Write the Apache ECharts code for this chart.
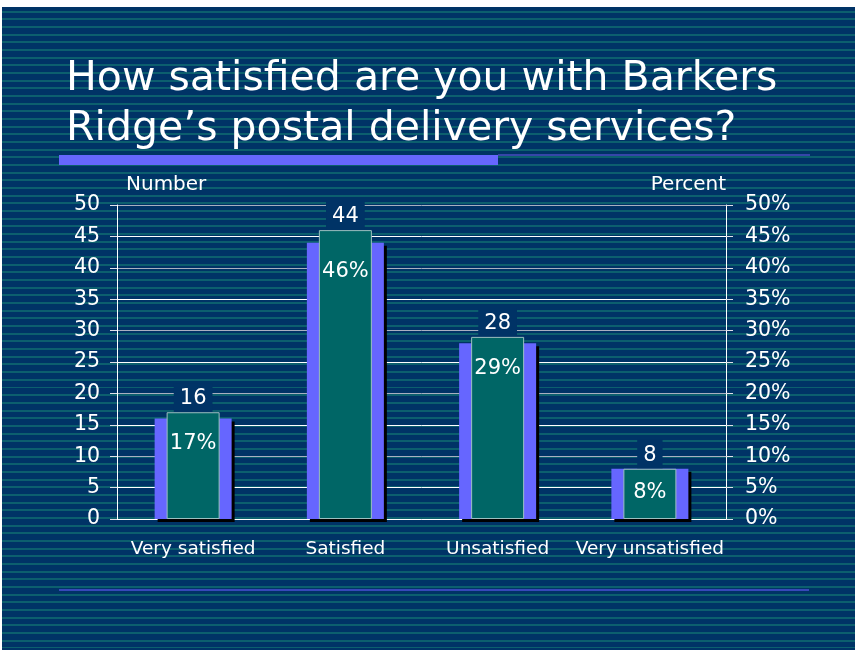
<!DOCTYPE html>
<html>
<head>
<meta charset="utf-8">
<script src="https://cdn.jsdelivr.net/npm/echarts@6/dist/echarts.min.js"></script>
<style>
  html, body { margin: 0; padding: 0; background: #ffffff; }
  #slide {
    position: absolute; left: 2px; top: 7px; width: 853px; height: 643px;
    background-color: #003366;
    background-image: repeating-linear-gradient(to bottom,
      #003366 0px, #003366 5.67px, #0c5f6e 5.67px, #0c5f6e 7.67px);
    background-position: 0 -2px;
  }
  #chart { position: absolute; left: 0; top: 0; width: 853px; height: 643px; }
</style>
</head>
<body>
<div id="slide"><div id="chart"></div></div>
<script>
// Survey answers
const categories = ['Very satisfied', 'Satisfied', 'Unsatisfied', 'Very unsatisfied'];
const numbers = [16, 44, 28, 8];
const percents = [17, 46, 29, 8];
const leftTicks = { min: 0, max: 50, interval: 5 };
const rightTicks = { min: 0, max: 50, interval: 5 };

const FONT = 'DejaVu Sans';
const GRID = { left: 115, right: 129, top: 198, bottom: 131 };
const plotHeight = 643 - GRID.top - GRID.bottom;
const pxPerUnit = plotHeight / (leftTicks.max - leftTicks.min);

// label tweaks for the percent labels inside the green bars
const pctLabelDistance = [21, 31, 21, 13];

const chart = echarts.init(document.getElementById('chart'), null, { renderer: 'canvas' });

const numberData = numbers.map((v, i) => ({
  value: v,
  label: { offset: [0, -Math.max(0, percents[i] - v) * pxPerUnit] }
}));
const percentData = percents.map((v, i) => ({
  value: v,
  label: { distance: pctLabelDistance[i] }
}));

chart.setOption({
  backgroundColor: 'transparent',
  animation: false,
  title: {
    text: 'How satisfied are you with Barkers\nRidge\u2019s postal delivery services?',
    left: 59, top: 42,
    textStyle: { color: '#ffffff', fontFamily: FONT, fontWeight: 'normal', fontSize: 41, lineHeight: 50 }
  },
  graphic: [
    { type: 'rect', left: 496, top: 147, shape: { width: 312, height: 2 }, style: { fill: '#3646a8' }, silent: true },
    { type: 'rect', left: 57, top: 148, shape: { width: 439, height: 10 }, style: { fill: '#6666ff' }, silent: true },
    { type: 'rect', left: 57, top: 582, shape: { width: 750, height: 2 }, style: { fill: '#3848b8' }, silent: true }
  ],
  grid: GRID,
  xAxis: [
    {
      type: 'category', data: categories, boundaryGap: true,
      axisLine: { lineStyle: { color: '#ffffff', width: 1 } },
      axisTick: { length: 6, lineStyle: { color: '#ffffff' } },
      axisLabel: { color: '#ffffff', fontFamily: FONT, fontSize: 18.5, margin: 21, interval: 0 }
    },
    { type: 'category', data: categories, show: false }
  ],
  yAxis: [
    {
      type: 'value', min: leftTicks.min, max: leftTicks.max, interval: leftTicks.interval,
      name: 'Number', nameLocation: 'end', nameGap: 10,
      nameTextStyle: { color: '#ffffff', fontFamily: FONT, fontSize: 20, align: 'left', padding: [0, 0, 0, 9] },
      axisLine: { show: true, lineStyle: { color: '#ffffff' } },
      axisTick: { show: true, length: 7, lineStyle: { color: '#e0e0e8' } },
      axisLabel: { color: '#ffffff', fontFamily: FONT, fontSize: 20.5, margin: 17 },
      splitLine: { show: true, lineStyle: { color: ['#a8b0c0', '#ffffff'], width: 1 } }
    },
    {
      type: 'value', min: rightTicks.min, max: rightTicks.max, interval: rightTicks.interval,
      name: 'Percent', nameLocation: 'end', nameGap: 10,
      nameTextStyle: { color: '#ffffff', fontFamily: FONT, fontSize: 20, align: 'right', padding: [0, 0, 0, 0] },
      axisLine: { show: true, lineStyle: { color: '#ffffff' } },
      axisTick: { show: true, length: 7, lineStyle: { color: '#e0e0e8' } },
      axisLabel: { color: '#ffffff', fontFamily: FONT, fontSize: 20.5, margin: 19, formatter: '{value}%' },
      splitLine: { show: false }
    }
  ],
  series: [
    {
      name: 'Number', type: 'bar', xAxisIndex: 0, yAxisIndex: 0,
      data: numberData, barWidth: 77, z: 2,
      itemStyle: {
        color: '#6666ff', borderWidth: 0,
        shadowColor: '#000000', shadowOffsetX: 3, shadowOffsetY: 3, shadowBlur: 0
      },
      label: {
        show: true, position: 'top', distance: 0,
        color: '#ffffff', fontFamily: FONT, fontSize: 21,
        backgroundColor: '#003366', padding: [5, 6, 3, 6]
      }
    },
    {
      name: 'Percent', type: 'bar', xAxisIndex: 1, yAxisIndex: 1,
      data: percentData, barWidth: 53, z: 3,
      itemStyle: { color: '#006666', borderColor: '#9cc0c0', borderWidth: 1 },
      label: {
        show: true, position: 'insideTop',
        color: '#ffffff', fontFamily: FONT, fontSize: 21,
        formatter: '{c}%'
      }
    }
  ]
});
</script>
</body>
</html>
